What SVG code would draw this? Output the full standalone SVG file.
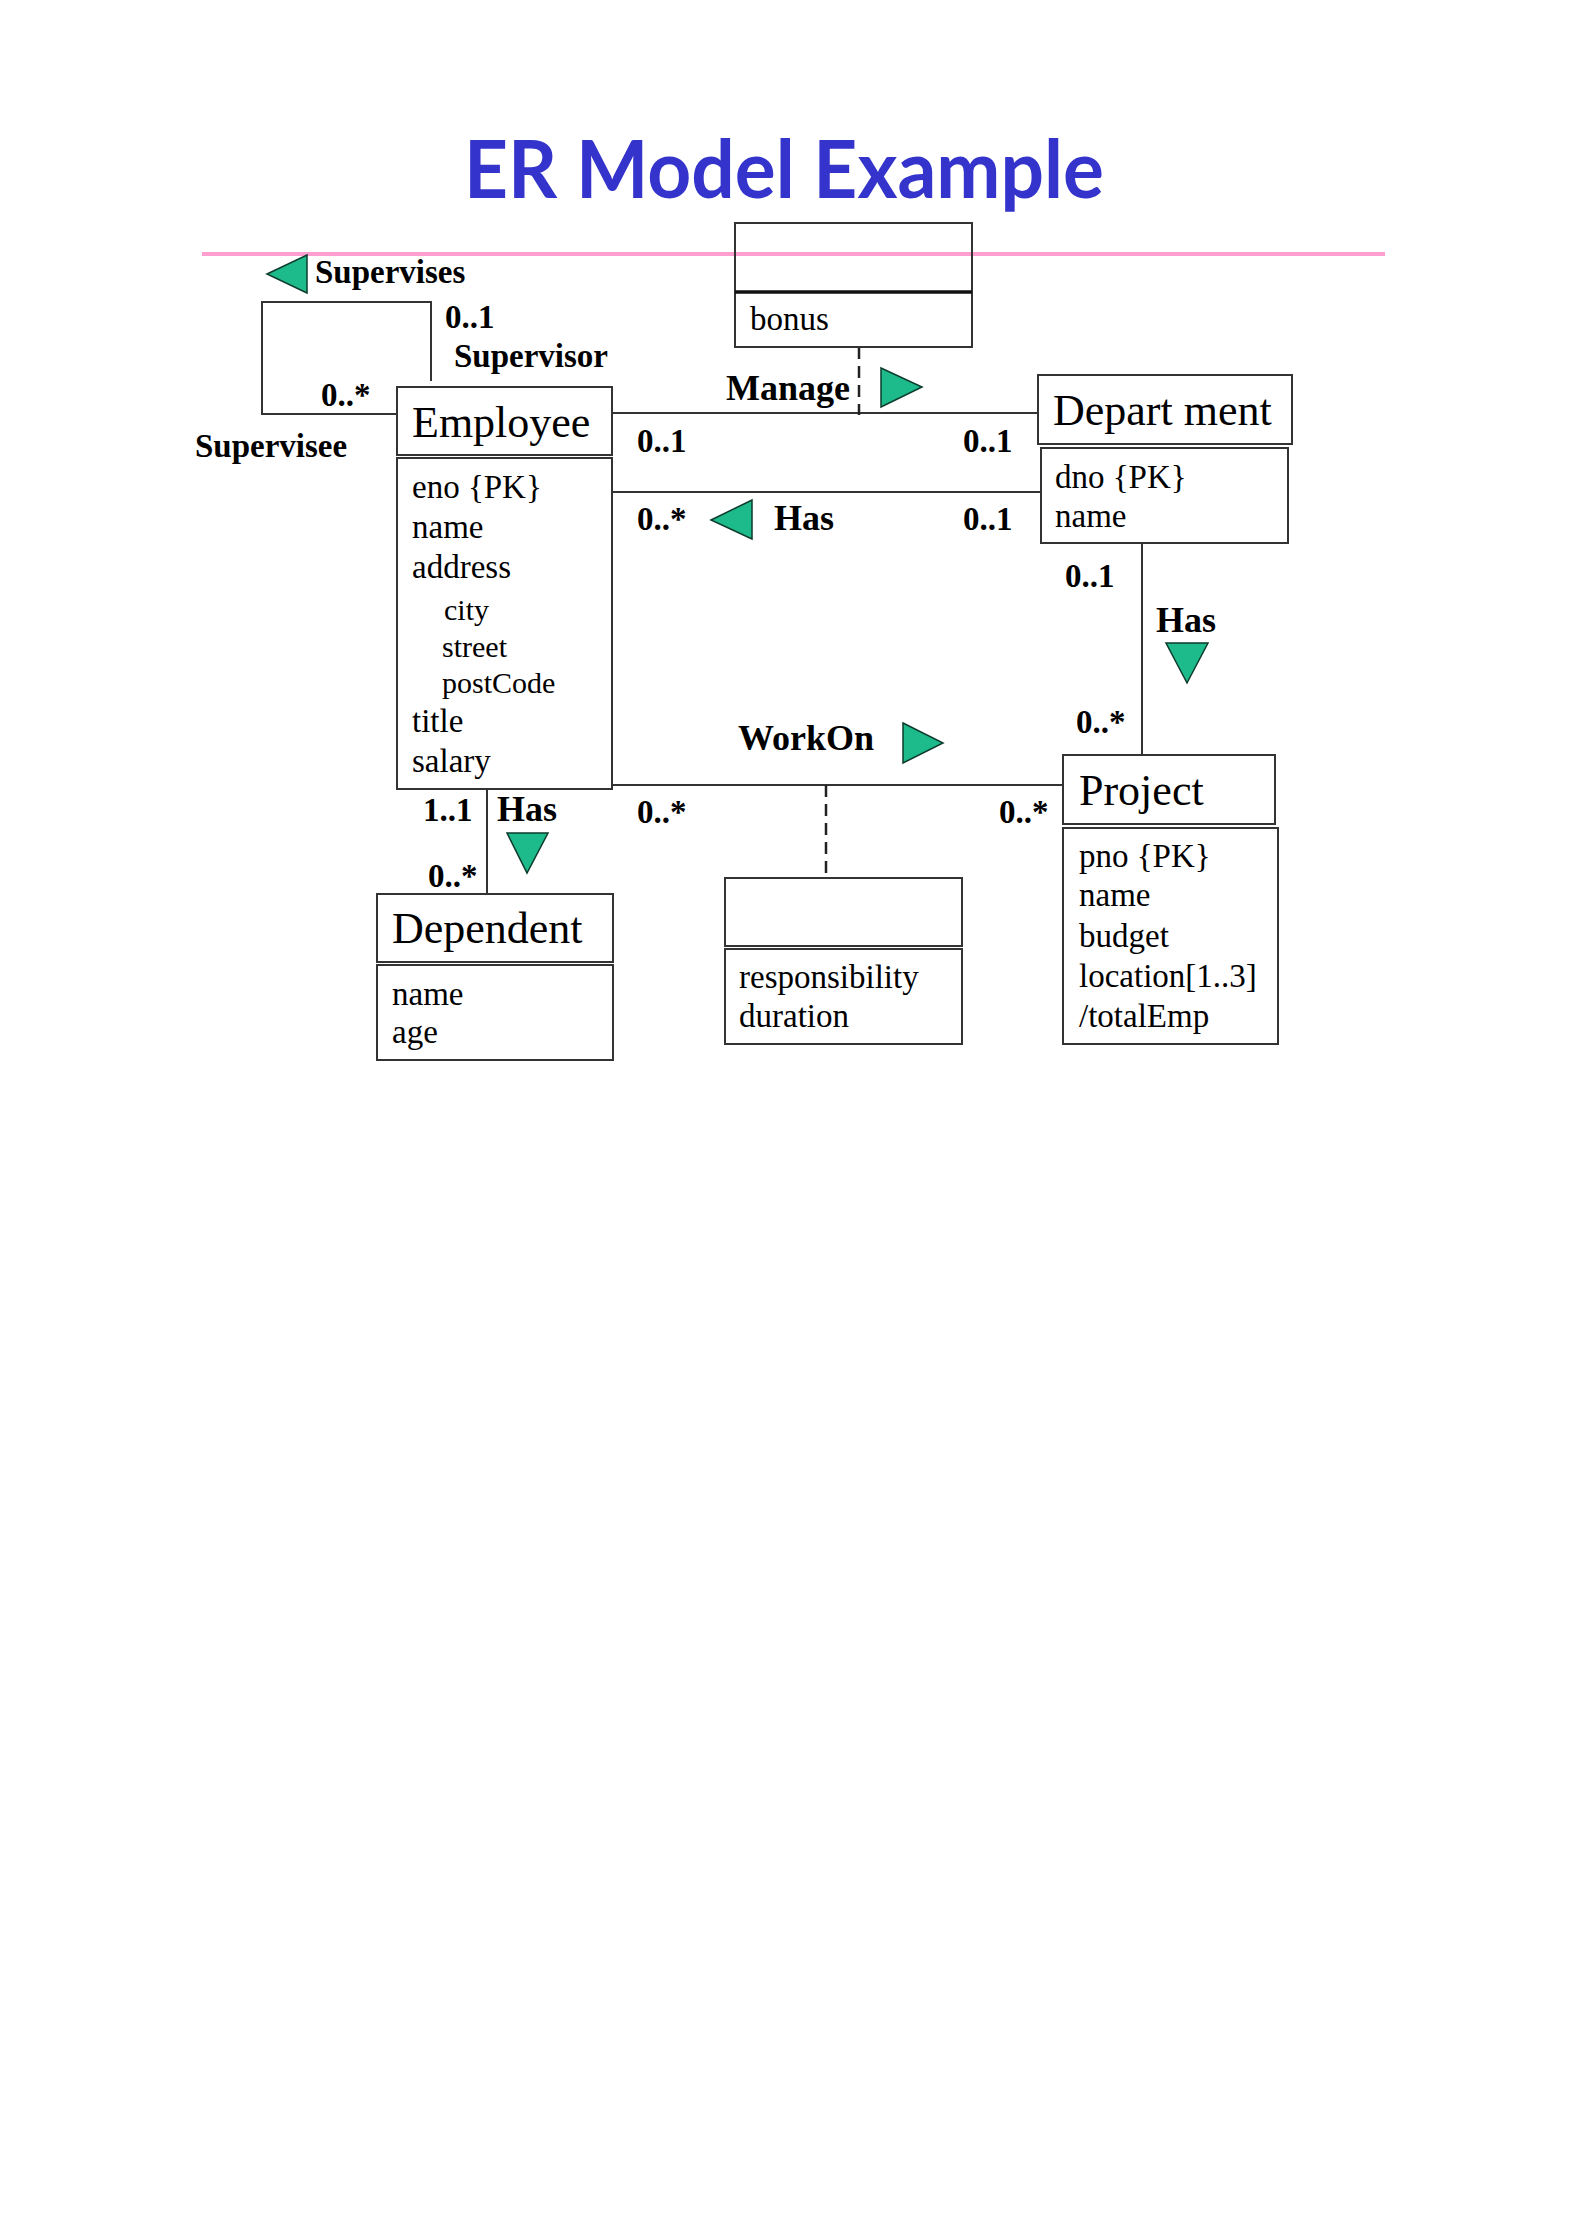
<svg xmlns="http://www.w3.org/2000/svg" width="1584" height="2240" viewBox="0 0 1584 2240">
<style>
.box{fill:#fff;stroke:#333;stroke-width:2}
.ln{fill:none;stroke:#333;stroke-width:2}
.dash{fill:none;stroke:#222;stroke-width:2.5;stroke-dasharray:12 7}
.tri{fill:#1dbb8c;stroke:#0d3b2c;stroke-width:1.5}
.lbl{font-family:"Liberation Serif","Times New Roman",serif;font-weight:bold;font-size:33px;fill:#000}
.rel{font-family:"Liberation Serif","Times New Roman",serif;font-weight:bold;font-size:36px;fill:#000}
.hdr{font-family:"Liberation Serif","Times New Roman",serif;font-size:44px;fill:#000}
.att{font-family:"Liberation Serif","Times New Roman",serif;font-size:33px;fill:#000}
.sub{font-family:"Liberation Serif","Times New Roman",serif;font-size:30px;fill:#000}
</style>
<rect width="1584" height="2240" fill="#fff"/>
<text x="464" y="198" textLength="640" lengthAdjust="spacingAndGlyphs" style="font-family:Lato,'DejaVu Sans',sans-serif;font-weight:bold;font-size:80px;fill:#3434cc">ER Model Example</text>

<g id="bonus">
<rect x="735" y="223" width="237" height="124" fill="#fff" stroke="none"/>
</g>
<line x1="202" y1="254" x2="1385" y2="254" stroke="#ff9fcf" stroke-width="4"/>

<g id="connectors">
<path class="ln" d="M397 414 H262 V302 H431 V381"/>
<path class="ln" d="M612 413 H1038"/>
<path class="ln" d="M612 492 H1041"/>
<path class="ln" d="M612 785 H1063"/>
<path class="ln" d="M1142 543 V755"/>
<path class="ln" d="M487 789 V894"/>
<path class="dash" d="M859 347 V415"/>
<path class="dash" d="M826 785 V882"/>
<polygon class="tri" points="267,274 307,255 307,293"/>
<polygon class="tri" points="711,520 752,500 752,539"/>
<polygon class="tri" points="881,368 922,387 881,407"/>
<polygon class="tri" points="903,723 943,743 903,763"/>
<polygon class="tri" points="1166,643 1208,643 1187,683"/>
<polygon class="tri" points="507,833 548,833 527,873"/>
<text class="lbl" x="315" y="283">Supervises</text>
<text class="lbl" x="445" y="328">0..1</text>
<text class="lbl" x="454" y="367">Supervisor</text>
<text class="lbl" x="321" y="406">0..*</text>
<text class="lbl" x="195" y="457">Supervisee</text>
<text class="rel" x="726" y="400">Manage</text>
<text class="lbl" x="637" y="452">0..1</text>
<text class="lbl" x="963" y="452">0..1</text>
<text class="lbl" x="637" y="530">0..*</text>
<text class="rel" x="774" y="530">Has</text>
<text class="lbl" x="963" y="530">0..1</text>
<text class="lbl" x="1065" y="587">0..1</text>
<text class="rel" x="1156" y="632">Has</text>
<text class="lbl" x="1076" y="733">0..*</text>
<text class="rel" x="738" y="750">WorkOn</text>
<text class="lbl" x="637" y="823">0..*</text>
<text class="lbl" x="999" y="823">0..*</text>
<text class="lbl" x="423" y="821">1..1</text>
<text class="rel" x="497" y="821">Has</text>
<text class="lbl" x="428" y="887">0..*</text>
</g>

<g id="bonus-class">
<rect x="735" y="223" width="237" height="124" fill="none" stroke="#333" stroke-width="2"/>
<line x1="735" y1="292" x2="972" y2="292" stroke="#111" stroke-width="3.5"/>
<text class="att" x="750" y="330">bonus</text>
</g>

<g id="employee">
<rect class="box" x="397" y="387" width="215" height="68"/>
<text class="hdr" x="412" y="437">Employee</text>
<rect class="box" x="397" y="458" width="215" height="331"/>
<text class="att" x="412" y="498">eno {PK}</text>
<text class="att" x="412" y="538">name</text>
<text class="att" x="412" y="578">address</text>
<text class="sub" x="444" y="620">city</text>
<text class="sub" x="442" y="657">street</text>
<text class="sub" x="442" y="693">postCode</text>
<text class="att" x="412" y="732">title</text>
<text class="att" x="412" y="772">salary</text>
</g>

<g id="department">
<rect class="box" x="1038" y="375" width="254" height="69"/>
<text class="hdr" x="1053" y="425">Depart ment</text>
<rect class="box" x="1041" y="448" width="247" height="95"/>
<text class="att" x="1055" y="488">dno {PK}</text>
<text class="att" x="1055" y="527">name</text>
</g>

<g id="project">
<rect class="box" x="1063" y="755" width="212" height="69"/>
<text class="hdr" x="1079" y="805">Project</text>
<rect class="box" x="1063" y="828" width="215" height="216"/>
<text class="att" x="1079" y="867">pno {PK}</text>
<text class="att" x="1079" y="906">name</text>
<text class="att" x="1079" y="947">budget</text>
<text class="att" x="1079" y="987">location[1..3]</text>
<text class="att" x="1079" y="1027">/totalEmp</text>
</g>

<g id="workon">
<rect class="box" x="725" y="878" width="237" height="68"/>
<rect class="box" x="725" y="949" width="237" height="95"/>
<text class="att" x="739" y="988">responsibility</text>
<text class="att" x="739" y="1027">duration</text>
</g>

<g id="dependent">
<rect class="box" x="377" y="894" width="236" height="68"/>
<text class="hdr" x="392" y="943">Dependent</text>
<rect class="box" x="377" y="965" width="236" height="95"/>
<text class="att" x="392" y="1005">name</text>
<text class="att" x="392" y="1043">age</text>
</g>
</svg>
